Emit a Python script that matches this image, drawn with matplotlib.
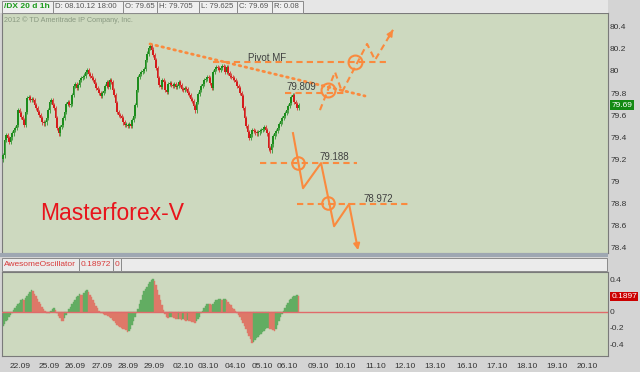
import matplotlib
matplotlib.use('Agg')
import matplotlib.pyplot as plt
from matplotlib.patches import Rectangle

# ---------------- data ----------------
closes = [
    79.236, 79.373, 79.418, 79.391, 79.355, 79.400, 79.436, 79.464, 79.482, 79.509,
    79.645, 79.618, 79.582, 79.555, 79.509, 79.627, 79.755, 79.764, 79.736, 79.745,
    79.736, 79.691, 79.664, 79.627, 79.600, 79.573, 79.536, 79.527, 79.536, 79.573,
    79.645, 79.718, 79.736, 79.691, 79.664, 79.573, 79.482, 79.436, 79.491, 79.509,
    79.573, 79.627, 79.700, 79.718, 79.691, 79.700, 79.782, 79.864, 79.882, 79.845,
    79.873, 79.918, 79.936, 79.945, 79.955, 79.991, 80.009, 79.973, 79.955, 79.936,
    79.918, 79.882, 79.845, 79.827, 79.800, 79.773, 79.800, 79.818, 79.864, 79.900,
    79.855, 79.918, 79.900, 79.827, 79.782, 79.709, 79.627, 79.600, 79.591, 79.573,
    79.536, 79.509, 79.509, 79.500, 79.518, 79.500, 79.555, 79.591, 79.691, 79.827,
    79.945, 79.973, 79.991, 80.000, 80.018, 80.100, 80.155, 80.209, 80.227, 80.191,
    80.145, 80.100, 80.027, 79.936, 79.873, 79.855, 79.918, 79.900, 79.827, 79.809,
    79.882, 79.891, 79.873, 79.864, 79.882, 79.855, 79.864, 79.900, 79.873, 79.836,
    79.827, 79.845, 79.836, 79.800, 79.782, 79.745, 79.727, 79.682, 79.645, 79.718,
    79.791, 79.827, 79.864, 79.882, 79.918, 79.927, 79.945, 79.936, 79.891, 79.845,
    79.991, 80.018, 80.036, 80.027, 80.009, 80.027, 80.045, 80.036, 79.991, 80.036,
    79.982, 79.955, 79.945, 79.936, 79.918, 79.900, 79.864, 79.845, 79.800, 79.773,
    79.664, 79.573, 79.500, 79.445, 79.391, 79.427, 79.464, 79.455, 79.445, 79.436,
    79.445, 79.455, 79.464, 79.473, 79.491, 79.464, 79.436, 79.300, 79.282, 79.336,
    79.409, 79.436, 79.455, 79.482, 79.518, 79.545, 79.573, 79.591, 79.618, 79.645,
    79.682, 79.709, 79.764, 79.782, 79.718, 79.700, 79.664, 79.690,
]
first_open = 79.20

ao_values = [
    -0.18, -0.15, -0.12, -0.10, -0.07, -0.04, -0.01, 0.02, 0.05, 0.07,
    0.09, 0.11, 0.14, 0.16, 0.14, 0.17, 0.20, 0.22, 0.24, 0.265,
    0.25, 0.22, 0.19, 0.16, 0.12, 0.09, 0.06, 0.03, 0.01, -0.01,
    -0.02, -0.01, 0.01, 0.03, 0.045, 0.02, -0.02, -0.05, -0.08, -0.11,
    -0.12, -0.08, -0.04, 0.00, 0.03, 0.06, 0.09, 0.12, 0.15, 0.18,
    0.20, 0.22, 0.21, 0.205, 0.23, 0.25, 0.265, 0.24, 0.21, 0.18,
    0.15, 0.11, 0.07, 0.04, 0.01, -0.01, -0.02, -0.03, -0.035, -0.04,
    -0.05, -0.06, -0.08, -0.10, -0.12, -0.14, -0.16, -0.18, -0.19, -0.20,
    -0.21, -0.22, -0.23, -0.245, -0.24, -0.21, -0.17, -0.12, -0.07, -0.02,
    0.03, 0.09, 0.15, 0.21, 0.25, 0.28, 0.31, 0.34, 0.37, 0.39,
    0.41, 0.38, 0.33, 0.27, 0.21, 0.15, 0.08, 0.02, -0.03, -0.06,
    -0.08, -0.07, -0.06, -0.07, -0.08, -0.085, -0.09, -0.085, -0.09, -0.10,
    -0.095, -0.10, -0.11, -0.105, -0.115, -0.12, -0.125, -0.13, -0.135, -0.12,
    -0.09, -0.06, -0.02, 0.01, 0.04, 0.07, 0.09, 0.10, 0.09, 0.08,
    0.10, 0.12, 0.14, 0.15, 0.155, 0.16, 0.15, 0.155, 0.16, 0.14,
    0.12, 0.10, 0.08, 0.05, 0.03, 0.01, -0.01, -0.04, -0.07, -0.10,
    -0.14, -0.18, -0.22, -0.26, -0.30, -0.34, -0.39, -0.37, -0.35, -0.33,
    -0.31, -0.29, -0.27, -0.25, -0.235, -0.22, -0.205, -0.20, -0.21, -0.22,
    -0.23, -0.24, -0.21, -0.16, -0.11, -0.07, -0.03, 0.01, 0.05, 0.08,
    0.11, 0.14, 0.16, 0.18, 0.19, 0.20, 0.21, 0.18972,
]

day_labels = ['22.09', '25.09', '26.09', '27.09', '28.09', '29.09', '02.10', '03.10',
              '04.10', '05.10', '06.10', '09.10', '10.10', '11.10', '12.10', '13.10',
              '16.10', '17.10', '18.10', '19.10', '20.10']
day_positions = [11.3, 30.7, 48.0, 66.0, 83.3, 100.7, 120.0, 136.7, 154.7, 172.7, 189.3,
                 210.0, 228.0, 248.7, 268.0, 288.0, 309.3, 329.3, 349.3, 369.3, 389.3]

price_ticks = [80.4, 80.2, 80.0, 79.8, 79.6, 79.4, 79.2, 79.0, 78.8, 78.6, 78.4]
price_tick_labels = ['80.4', '80.2', '80', '79.8', '79.6', '79.4', '79.2', '79', '78.8', '78.6', '78.4']
ao_ticks = [0.4, 0.0, -0.2, -0.4]
ao_tick_labels = ['0.4', '0', '-0.2', '-0.4']

header_fields = ['/DX 20 d 1h', 'D: 08.10.12 18:00', 'O: 79.65', 'H: 79.705',
                 'L: 79.625', 'C: 79.69', 'R: 0.08']
osc_fields = ['AwesomeOscillator', '0.18972', '0']
last_close = 79.69
last_ao_label = '0.1897'
copyright_text = '2012 \u00a9 TD Ameritrade IP Company, Inc.'

# annotations (bar index, price)
trend_x = [98.0, 241.3]
trend_y = [80.245, 79.773]
levels = [80.078, 79.803, 79.166, 78.797]
level_x0 = [140.0, 188.0, 171.3, 196.0]
level_x1 = [256.7, 228.0, 236.0, 271.3]
level_labels = ['Pivot MF', '79.809', '79.188', '78.972']
label_x = [163.3, 188.7, 211.3, 240.0]
label_y = [80.118, 79.857, 79.218, 78.836]
up_path_x = [211.3, 221.3, 226.0, 242.7, 248.0, 260.0]
up_path_y = [79.645, 79.991, 79.809, 80.245, 80.100, 80.373]
down_path_x = [193.3, 200.0, 212.0, 220.7, 230.7, 236.7]
down_path_y = [79.436, 78.936, 79.164, 78.591, 78.791, 78.373]
circle_x = [216.7, 234.7, 196.7, 216.7]
circle_y = [79.827, 80.082, 79.164, 78.800]

# ---------------- style ----------------
W, H = 640, 372
BG_FIG = '#d4d4d4'
BG_PLOT = '#cdd9bf'
GREEN = '#1c8c1c'
RED = '#d41c1c'
AO_GREEN = '#62ad62'
AO_RED = '#de7868'
ORANGE = '#fa8a3e'
TXT = '#333333'
FONT = 'Liberation Sans'

plt.rcParams['font.family'] = [FONT, 'DejaVu Sans']

fig = plt.figure(figsize=(W / 100, H / 100), dpi=100, facecolor=BG_FIG)


def fr(x0, y0, x1, y1):
    return [x0 / W, 1 - y1 / H, (x1 - x0) / W, (y1 - y0) / H]


def fx(x):
    return x / W


def fy(y):
    return 1 - y / H


# header bar
fig.patches.append(Rectangle((fx(0), fy(13)), fx(608), 13 / H, transform=fig.transFigure,
                             facecolor='#e6e6e6', edgecolor='none', zorder=0))
bounds = [2, 53, 123, 157, 199, 237, 272, 303]
for k, txt in enumerate(header_fields):
    x0, x1 = bounds[k], bounds[k + 1]
    fig.patches.append(Rectangle((fx(x0), fy(13)), (x1 - x0) / W, 12 / H, transform=fig.transFigure,
                                 facecolor='#efefef', edgecolor='#8a8a8a', lw=0.7, zorder=1))
    if k == 0:
        fig.text(fx(x0 + 2), fy(7), txt, color='#1a9a1a', fontsize=6.0, fontweight='bold',
                 va='center', ha='left')
    else:
        fig.text(fx(x0 + 2), fy(7), txt, color='#555555', fontsize=5.6, va='center', ha='left')

# main price axes
xlim = (-0.667, 403.3)
ax = fig.add_axes(fr(2, 13, 608, 253))
ax.set_facecolor(BG_PLOT)
ax.set_xlim(*xlim)
ax.set_ylim(78.348, 80.526)

opens = [first_open] + closes[:-1]
wick = 0.022
for i, (o, c) in enumerate(zip(opens, closes)):
    col = GREEN if c >= o else RED
    lo, hi = min(o, c), max(o, c)
    if hi - lo < 0.006:
        hi = lo + 0.006
    ax.vlines(i, lo - wick, hi + wick, color=col, lw=0.7, alpha=0.75, zorder=2)
    ax.bar(i, hi - lo, bottom=lo, width=1.0, color=col, edgecolor='none', zorder=3)

# annotations
ax.plot(trend_x, trend_y, color=ORANGE, lw=2.0, linestyle=(0, (0.6, 1.6)),
        dash_capstyle='round', zorder=4)
for lv, a, b in zip(levels, level_x0, level_x1):
    ax.plot([a, b], [lv, lv], color=ORANGE, lw=1.5, linestyle=(0, (3, 2)), zorder=4)
for t, lx, ly in zip(level_labels, label_x, label_y):
    ax.text(lx, ly, t, color='#404040', fontsize=7, ha='left', va='center', zorder=5)

ax.plot(up_path_x, up_path_y, color=ORANGE, lw=1.5, linestyle=(0, (3, 2)), zorder=4)
ex, ey = up_path_x[-1], up_path_y[-1]
px_, py_ = up_path_x[-2], up_path_y[-2]
ax.annotate('', xy=(ex, ey), xytext=(ex - 0.25 * (ex - px_), ey - 0.25 * (ey - py_)),
            arrowprops=dict(arrowstyle='-|>', color=ORANGE, lw=1.2, mutation_scale=9,
                            shrinkA=0, shrinkB=0), zorder=5)

ax.plot(down_path_x[:-1], down_path_y[:-1], color=ORANGE, lw=1.5, zorder=4)
ax.annotate('', xy=(down_path_x[-1], down_path_y[-1]), xytext=(down_path_x[-2], down_path_y[-2]),
            arrowprops=dict(arrowstyle='-|>', color=ORANGE, lw=1.5, mutation_scale=9,
                            shrinkA=0, shrinkB=0), zorder=5, annotation_clip=False)

ax.plot(circle_x[:2], circle_y[:2], 'o', mfc='none', mec=ORANGE, ms=10, mew=1.5, zorder=5)
ax.plot(circle_x[2:], circle_y[2:], 'o', mfc='none', mec=ORANGE, ms=9, mew=1.5, zorder=5)

ax.text((40 - 2) / 606, (253 - 214) / 240, 'Masterforex-V', transform=ax.transAxes,
        color='#e8141c', fontsize=16.5, ha='left', va='center', zorder=5)
ax.text((4 - 2) / 606, (253 - 20) / 240, copyright_text, transform=ax.transAxes,
        color='#8a9a82', fontsize=5.2, ha='left', va='center', zorder=5)

ax.yaxis.tick_right()
ax.set_yticks(price_ticks, price_tick_labels)
ax.tick_params(axis='y', length=0, pad=1.5, labelsize=6, labelcolor=TXT)
ax.set_xticks([])
for s in ax.spines.values():
    s.set_color('#7a7a7a')
    s.set_linewidth(0.8)

ax.annotate(f'{last_close:.2f}', xy=(1.0, last_close), xycoords=('axes fraction', 'data'),
            xytext=(2.5, 0), textcoords='offset points', color='white', fontsize=6,
            va='center', ha='left',
            bbox=dict(boxstyle='square,pad=0.15', facecolor='#138a13', edgecolor='none'))

# separator band
fig.patches.append(Rectangle((fx(0), fy(257)), fx(608), 4 / H, transform=fig.transFigure,
                             facecolor='#9ea7b2', edgecolor='none', zorder=0))

# oscillator header
obounds = [2, 79, 113, 121, 607]
for k in range(4):
    x0, x1 = obounds[k], obounds[k + 1]
    fig.patches.append(Rectangle((fx(x0), fy(271)), (x1 - x0) / W, 13 / H, transform=fig.transFigure,
                                 facecolor='#ebebeb', edgecolor='#8a8a8a', lw=0.7, zorder=1))
    if k < 3:
        fig.text(fx(x0 + 2), fy(264.5), osc_fields[k], color='#d83a3a', fontsize=6.0,
                 va='center', ha='left')

# oscillator axes
ox = fig.add_axes(fr(2, 272, 608, 356))
ox.set_facecolor(BG_PLOT)
ox.set_xlim(*xlim)
ox.set_ylim(-0.548, 0.491)
prev = ao_values[0] - 0.01
for i, v in enumerate(ao_values):
    col = AO_GREEN if v > prev else AO_RED
    ox.bar(i, v, width=1.0, color=col, edgecolor=col, lw=0.3, zorder=2)
    prev = v
ox.axhline(0, color='#e06a6a', lw=1.0, zorder=3)
ox.yaxis.tick_right()
ox.set_yticks(ao_ticks, ao_tick_labels)
ox.tick_params(axis='y', length=0, pad=1.5, labelsize=6, labelcolor=TXT)
ox.set_xticks(day_positions, day_labels)
ox.tick_params(axis='x', length=0, pad=5, labelsize=6, labelcolor=TXT)
for s in ox.spines.values():
    s.set_color('#7a7a7a')
    s.set_linewidth(0.8)
ox.annotate(last_ao_label, xy=(1.0, ao_values[-1]), xycoords=('axes fraction', 'data'),
            xytext=(2.5, 0), textcoords='offset points', color='white', fontsize=6,
            va='center', ha='left',
            bbox=dict(boxstyle='square,pad=0.15', facecolor='#cc0000', edgecolor='none'))

fig.savefig('out.png', dpi=100, facecolor=BG_FIG)
